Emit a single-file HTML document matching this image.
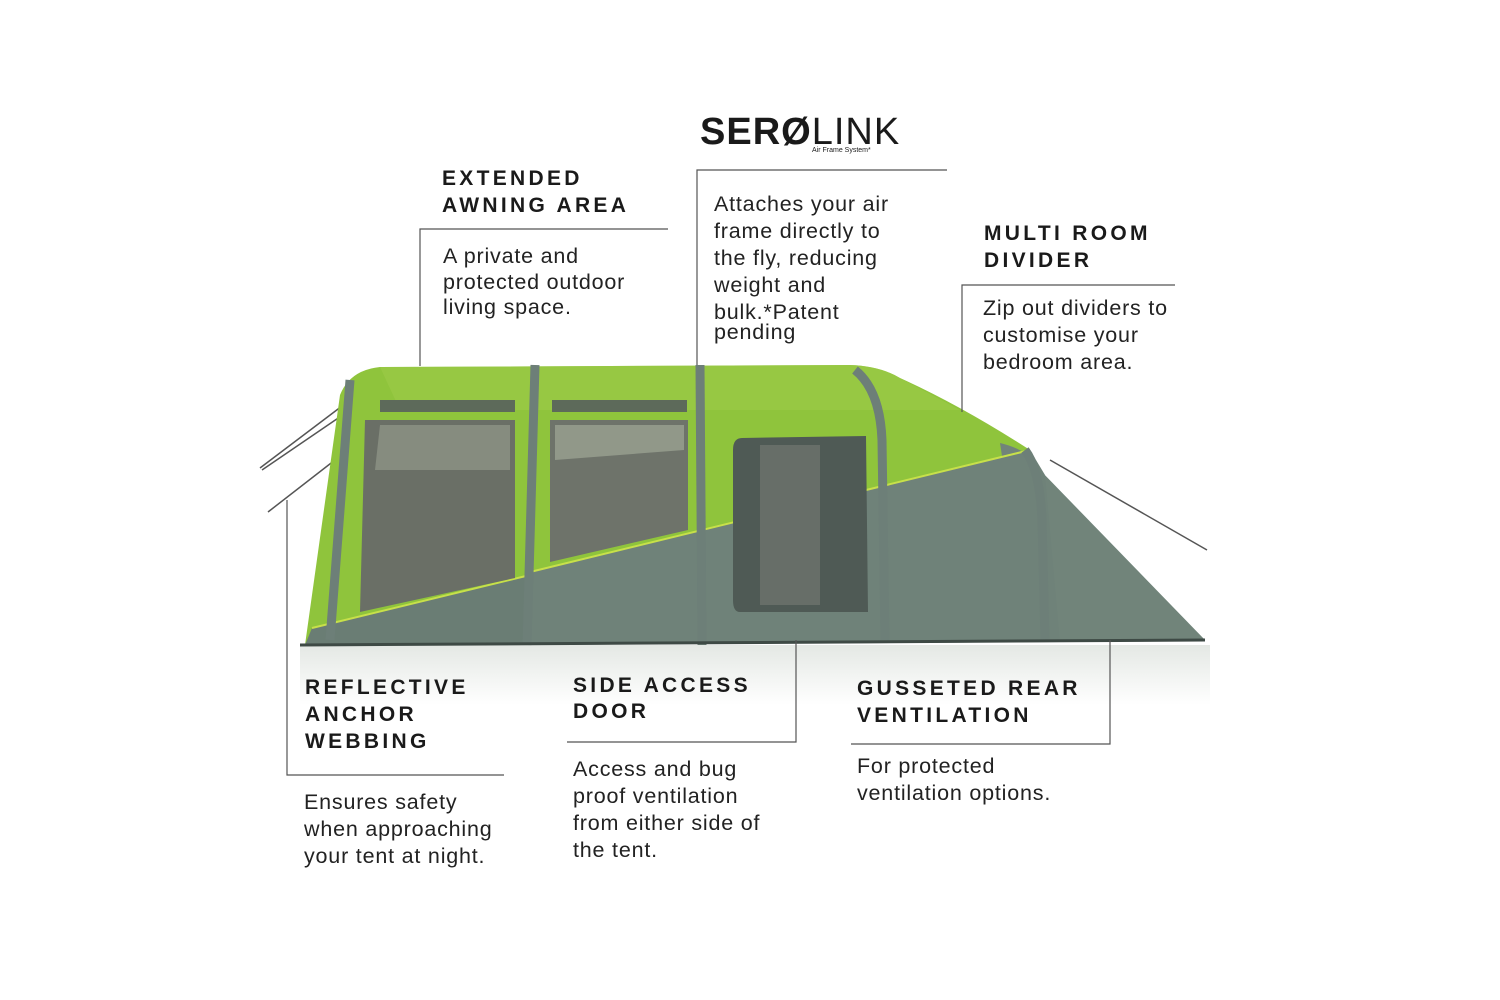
<!DOCTYPE html>
<html><head><meta charset="utf-8"><style>
body{margin:0;width:1500px;height:1000px;background:#fff;position:relative;overflow:hidden;font-family:"Liberation Sans",sans-serif;color:#1a1a1a}
.h{position:absolute;font-weight:bold;font-size:21px;letter-spacing:3.3px;line-height:27px}
.b{position:absolute;font-size:21.5px;line-height:27px;color:#222;letter-spacing:0.8px}
</style></head><body>
<svg width="1500" height="1000" style="position:absolute;left:0;top:0">
<defs>
<linearGradient id="refl" x1="0" y1="0" x2="0" y2="1"><stop offset="0" stop-color="#e4e8e4"/><stop offset="1" stop-color="#fff"/></linearGradient>
</defs>
<rect x="300" y="645" width="910" height="60" fill="url(#refl)"/>
<g stroke="#555" stroke-width="1.5" fill="none">
<line x1="350" y1="400" x2="260" y2="468"/><line x1="350" y1="410" x2="262" y2="470"/>
<line x1="335" y1="460" x2="268" y2="512"/>
<line x1="1050" y1="460" x2="1207" y2="550"/>
</g>
<!-- green upper -->
<path d="M305,645 L340,395 Q350,370 380,367 L850,365 Q880,366 900,378 Q960,405 1030,450 L530,572 L530,645 Z" fill="#8fc43c"/>
<path d="M380,367 L850,365 Q880,366 900,378 L960,410 L400,410 Z" fill="#9dcb47" opacity=".6"/>
<!-- rear gray -->
<path d="M1000,443 Q1030,450 1040,470 L1205,640 L1030,640 Z" fill="#71847a"/>
<!-- main body gray -->
<path d="M530,572 L1030,450 L1045,475 L1060,642 L530,645 Z" fill="#6f8279"/>
<!-- lower left gray band -->
<path d="M305,645 L312,628 L530,575 L530,645 Z" fill="#6a7d74"/>
<line x1="312" y1="628" x2="530" y2="575" stroke="#c7e04a" stroke-width="2"/>
<line x1="530" y1="572" x2="1030" y2="450" stroke="#c7e04a" stroke-width="2"/>
<!-- windows -->
<rect x="380" y="400" width="135" height="12" fill="#5d6a5a"/>
<rect x="552" y="400" width="135" height="12" fill="#5d6a5a"/>
<path d="M365,420 L515,420 L515,578 L360,612 Z" fill="#6a6f66"/>
<path d="M550,420 L688,420 L688,530 L550,562 Z" fill="#6e736a"/>
<path d="M380,425 L510,425 L510,470 L375,470 Z" fill="#9aa090" opacity=".6"/>
<path d="M555,425 L684,425 L684,450 L555,460 Z" fill="#a9b09f" opacity=".6"/>
<!-- door -->
<path d="M742,438 L866,436 L868,612 L740,612 Q733,612 733,600 L733,450 Q733,438 742,438 Z" fill="#4f5a55"/>
<path d="M760,445 L820,445 L820,605 L760,605 Z" fill="#676e68"/>
<g fill="none" stroke="#6d7f78" stroke-width="9">
<path d="M350,380 L330,640"/>
<path d="M535,365 L527,645"/>
<path d="M700,365 L702,645"/>
<path d="M855,370 Q880,390 882,440 L885,640"/>
<path d="M1025,450 Q1040,470 1042,520 L1045,640"/>
</g>
<line x1="300" y1="645" x2="1205" y2="640" stroke="#3e4a45" stroke-width="3"/>
<g stroke="#555" stroke-width="1.2" fill="none">
<polyline points="668,229 420,229 420,366"/>
<polyline points="947,170 697,170 697,365"/>
<polyline points="1175,285 962,285 962,412"/>
<polyline points="287,500 287,775 504,775"/>
<polyline points="796,640 796,742 567,742"/>
<polyline points="1110,640 1110,744 851,744"/>
</g>
</svg>
<div style="position:absolute;left:700px;top:110px;font-weight:bold;font-size:38px;letter-spacing:1px;line-height:44px">SER<span style="font-weight:bold">Ø</span><span style="font-weight:normal">LINK</span></div>
<div style="position:absolute;left:812px;top:147px;font-size:7px">Air Frame System*</div>
<div class="h" style="left:442px;top:165px">EXTENDED<br>AWNING AREA</div>
<div class="b" style="left:443px;top:244px;line-height:25.5px">A private and<br>protected outdoor<br>living space.</div>
<div class="b" style="left:714px;top:191px">Attaches your air<br>frame directly to<br>the fly, reducing<br>weight and<br>bulk.*Patent</div>
<div class="b" style="left:714px;top:319px">pending</div>
<div class="h" style="left:984px;top:220px">MULTI ROOM<br>DIVIDER</div>
<div class="b" style="left:983px;top:295px">Zip out dividers to<br>customise your<br>bedroom area.</div>
<div class="h" style="left:305px;top:674px">REFLECTIVE<br>ANCHOR<br>WEBBING</div>
<div class="b" style="left:304px;top:789px">Ensures safety<br>when approaching<br>your tent at night.</div>
<div class="h" style="left:573px;top:673px;line-height:26px">SIDE ACCESS<br>DOOR</div>
<div class="b" style="left:573px;top:756px">Access and bug<br>proof ventilation<br>from either side of<br>the tent.</div>
<div class="h" style="left:857px;top:675px">GUSSETED REAR<br>VENTILATION</div>
<div class="b" style="left:857px;top:753px">For protected<br>ventilation options.</div>
</body></html>
